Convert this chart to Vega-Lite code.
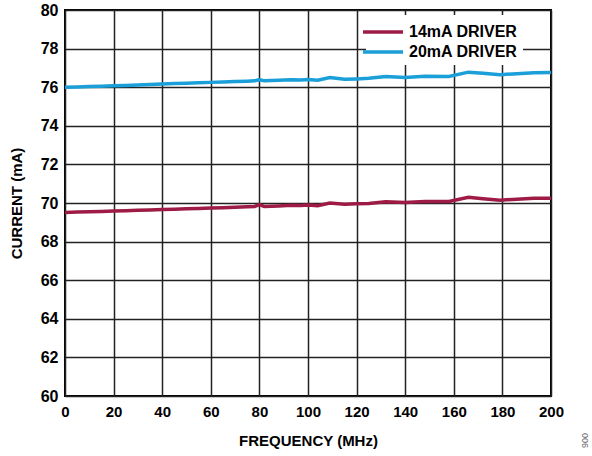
{
  "$schema": "https://vega.github.io/schema/vega-lite/v6.json",
  "width": 486,
  "height": 386,
  "autosize": {"type": "none"},
  "padding": {"left": 65, "top": 10, "right": 41, "bottom": 60},
  "background": "white",
  "config": {
    "view": {"stroke": "#000", "strokeWidth": 2},
    "font": "Liberation Sans",
    "axis": {
      "domain": false,
      "ticks": false,
      "grid": true,
      "gridColor": "#222",
      "gridWidth": 1.5,
      "gridOpacity": 1,
      "labelFlush": false,
      "labelOverlap": false,
      "labelFont": "Liberation Sans",
      "labelFontWeight": "bold",
      "labelFontSize": 15,
      "labelColor": "#000",
      "titleFont": "Liberation Sans",
      "titleFontWeight": "bold",
      "titleFontSize": 15,
      "titleColor": "#000"
    }
  },
  "title": {
    "text": "006",
    "orient": "right",
    "anchor": "end",
    "frame": "bounds",
    "fontSize": 9,
    "fontWeight": "normal",
    "color": "#666",
    "offset": 16
  },
  "data": {
    "values": [
      {"f": 0, "c": 69.51, "s": "14mA DRIVER"},
      {"f": 5, "c": 69.53, "s": "14mA DRIVER"},
      {"f": 10, "c": 69.55, "s": "14mA DRIVER"},
      {"f": 15, "c": 69.56, "s": "14mA DRIVER"},
      {"f": 20, "c": 69.58, "s": "14mA DRIVER"},
      {"f": 25, "c": 69.6, "s": "14mA DRIVER"},
      {"f": 30, "c": 69.62, "s": "14mA DRIVER"},
      {"f": 35, "c": 69.64, "s": "14mA DRIVER"},
      {"f": 40, "c": 69.66, "s": "14mA DRIVER"},
      {"f": 45, "c": 69.68, "s": "14mA DRIVER"},
      {"f": 50, "c": 69.7, "s": "14mA DRIVER"},
      {"f": 55, "c": 69.72, "s": "14mA DRIVER"},
      {"f": 60, "c": 69.74, "s": "14mA DRIVER"},
      {"f": 65, "c": 69.76, "s": "14mA DRIVER"},
      {"f": 70, "c": 69.78, "s": "14mA DRIVER"},
      {"f": 75, "c": 69.8, "s": "14mA DRIVER"},
      {"f": 78, "c": 69.82, "s": "14mA DRIVER"},
      {"f": 80, "c": 69.92, "s": "14mA DRIVER"},
      {"f": 82, "c": 69.82, "s": "14mA DRIVER"},
      {"f": 88, "c": 69.85, "s": "14mA DRIVER"},
      {"f": 93, "c": 69.88, "s": "14mA DRIVER"},
      {"f": 97, "c": 69.87, "s": "14mA DRIVER"},
      {"f": 100, "c": 69.9, "s": "14mA DRIVER"},
      {"f": 104, "c": 69.86, "s": "14mA DRIVER"},
      {"f": 109, "c": 70.0, "s": "14mA DRIVER"},
      {"f": 115, "c": 69.93, "s": "14mA DRIVER"},
      {"f": 120, "c": 69.96, "s": "14mA DRIVER"},
      {"f": 125, "c": 69.98, "s": "14mA DRIVER"},
      {"f": 132, "c": 70.07, "s": "14mA DRIVER"},
      {"f": 140, "c": 70.02, "s": "14mA DRIVER"},
      {"f": 148, "c": 70.08, "s": "14mA DRIVER"},
      {"f": 158, "c": 70.08, "s": "14mA DRIVER"},
      {"f": 166, "c": 70.3, "s": "14mA DRIVER"},
      {"f": 172, "c": 70.22, "s": "14mA DRIVER"},
      {"f": 179, "c": 70.14, "s": "14mA DRIVER"},
      {"f": 186, "c": 70.2, "s": "14mA DRIVER"},
      {"f": 193, "c": 70.25, "s": "14mA DRIVER"},
      {"f": 200, "c": 70.25, "s": "14mA DRIVER"},
      {"f": 0, "c": 76.0, "s": "20mA DRIVER"},
      {"f": 5, "c": 76.01, "s": "20mA DRIVER"},
      {"f": 10, "c": 76.03, "s": "20mA DRIVER"},
      {"f": 15, "c": 76.05, "s": "20mA DRIVER"},
      {"f": 20, "c": 76.07, "s": "20mA DRIVER"},
      {"f": 25, "c": 76.09, "s": "20mA DRIVER"},
      {"f": 30, "c": 76.11, "s": "20mA DRIVER"},
      {"f": 35, "c": 76.14, "s": "20mA DRIVER"},
      {"f": 40, "c": 76.17, "s": "20mA DRIVER"},
      {"f": 45, "c": 76.19, "s": "20mA DRIVER"},
      {"f": 50, "c": 76.21, "s": "20mA DRIVER"},
      {"f": 55, "c": 76.23, "s": "20mA DRIVER"},
      {"f": 60, "c": 76.25, "s": "20mA DRIVER"},
      {"f": 65, "c": 76.27, "s": "20mA DRIVER"},
      {"f": 70, "c": 76.29, "s": "20mA DRIVER"},
      {"f": 75, "c": 76.31, "s": "20mA DRIVER"},
      {"f": 78, "c": 76.33, "s": "20mA DRIVER"},
      {"f": 80, "c": 76.39, "s": "20mA DRIVER"},
      {"f": 82, "c": 76.33, "s": "20mA DRIVER"},
      {"f": 88, "c": 76.36, "s": "20mA DRIVER"},
      {"f": 93, "c": 76.39, "s": "20mA DRIVER"},
      {"f": 97, "c": 76.37, "s": "20mA DRIVER"},
      {"f": 100, "c": 76.4, "s": "20mA DRIVER"},
      {"f": 104, "c": 76.36, "s": "20mA DRIVER"},
      {"f": 109, "c": 76.5, "s": "20mA DRIVER"},
      {"f": 115, "c": 76.41, "s": "20mA DRIVER"},
      {"f": 120, "c": 76.43, "s": "20mA DRIVER"},
      {"f": 125, "c": 76.46, "s": "20mA DRIVER"},
      {"f": 132, "c": 76.56, "s": "20mA DRIVER"},
      {"f": 140, "c": 76.5, "s": "20mA DRIVER"},
      {"f": 148, "c": 76.57, "s": "20mA DRIVER"},
      {"f": 158, "c": 76.56, "s": "20mA DRIVER"},
      {"f": 166, "c": 76.78, "s": "20mA DRIVER"},
      {"f": 172, "c": 76.72, "s": "20mA DRIVER"},
      {"f": 179, "c": 76.65, "s": "20mA DRIVER"},
      {"f": 186, "c": 76.7, "s": "20mA DRIVER"},
      {"f": 193, "c": 76.75, "s": "20mA DRIVER"},
      {"f": 200, "c": 76.76, "s": "20mA DRIVER"}
    ]
  },
  "mark": {"type": "line", "strokeWidth": 3.5, "clip": true},
  "encoding": {
    "x": {
      "field": "f",
      "type": "quantitative",
      "title": "FREQUENCY (MHz)",
      "scale": {"domain": [0, 200], "nice": false},
      "axis": {"values": [0, 20, 40, 60, 80, 100, 120, 140, 160, 180, 200], "labelPadding": 8, "titlePadding": 14}
    },
    "y": {
      "field": "c",
      "type": "quantitative",
      "title": "CURRENT (mA)",
      "scale": {"domain": [60, 80], "nice": false, "zero": false},
      "axis": {"values": [60, 62, 64, 66, 68, 70, 72, 74, 76, 78, 80], "labelPadding": 7, "titlePadding": 16, "labelFontSize": 16}
    },
    "color": {
      "field": "s",
      "type": "nominal",
      "scale": {"domain": ["14mA DRIVER", "20mA DRIVER"], "range": ["#9E1B45", "#1A9FD8"]},
      "legend": {
        "title": null,
        "orient": "none",
        "legendX": 301,
        "legendY": 5,
        "fillColor": "white",
        "padding": 5,
        "symbolType": "M-2,0H2",
        "symbolSize": 400,
        "symbolStrokeWidth": 3.5,
        "labelFont": "Liberation Sans",
        "labelFontWeight": "bold",
        "labelFontSize": 16,
        "labelColor": "#000",
        "labelOffset": 14,
        "rowPadding": 0
      }
    }
  }
}
